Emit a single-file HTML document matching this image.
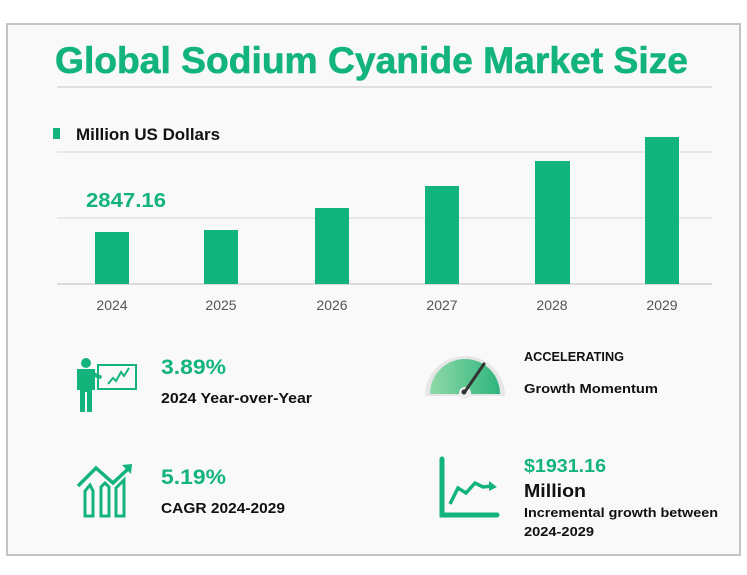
<!DOCTYPE html>
<html><head><meta charset="utf-8"><style>
html,body{margin:0;padding:0;background:#fff;}
svg{display:block;font-family:"Liberation Sans",sans-serif;}
</style></head><body>
<svg width="747" height="575" viewBox="0 0 747 575" xmlns="http://www.w3.org/2000/svg">
<rect x="7" y="24" width="733" height="531" fill="#f9f9f9" stroke="#c4c4c4" stroke-width="2"/>
<text x="55" y="73" font-size="37" font-weight="bold" fill="#12b47b" stroke="#12b47b" stroke-width="0.6" textLength="633" lengthAdjust="spacingAndGlyphs">Global  Sodium Cyanide Market Size</text>
<line x1="57" y1="87" x2="712" y2="87" stroke="#d8d8d8" stroke-width="1.5"/>
<rect x="53" y="128" width="7" height="11" fill="#12b47b"/>
<text x="76" y="140" font-size="17" font-weight="bold" fill="#111" textLength="144" lengthAdjust="spacingAndGlyphs">Million US Dollars</text>
<line x1="57" y1="152" x2="712" y2="152" stroke="#d8d8d8"/>
<line x1="57" y1="218" x2="712" y2="218" stroke="#d8d8d8"/>
<line x1="57" y1="284" x2="712" y2="284" stroke="#d0d0d0" stroke-width="1.5"/>
<g fill="#10b47c">
<rect x="95" y="232" width="34" height="52"/>
<rect x="204" y="230" width="34" height="54"/>
<rect x="315" y="208" width="34" height="76"/>
<rect x="425" y="186" width="34" height="98"/>
<rect x="535" y="161" width="35" height="123"/>
<rect x="645" y="137" width="34" height="147"/>
</g>
<text x="86" y="207" font-size="20" font-weight="bold" fill="#12b47b" textLength="80" lengthAdjust="spacingAndGlyphs">2847.16</text>
<g font-size="14" fill="#555" text-anchor="middle">
<text x="112" y="310">2024</text><text x="221" y="310">2025</text><text x="332" y="310">2026</text>
<text x="442" y="310">2027</text><text x="552" y="310">2028</text><text x="662" y="310">2029</text>
</g>
<g fill="#12b47b">
<circle cx="86" cy="363" r="5"/>
<path d="M77 369 H95 V390 H92 V412 H87 V392 H85 V412 H80 V390 H77 Z"/>
<path d="M94 372 L102 376 L101 379 L94 377 Z"/>
</g>
<rect x="98" y="365" width="38" height="24" fill="none" stroke="#12b47b" stroke-width="2"/>
<polyline points="108,384 113,378 116,381 121,372 124,376 129,368" fill="none" stroke="#12b47b" stroke-width="2"/>
<text x="161" y="374" font-size="21" font-weight="bold" fill="#12b47b" textLength="65" lengthAdjust="spacingAndGlyphs">3.89%</text>
<text x="161" y="403" font-size="15" font-weight="bold" fill="#111" textLength="151" lengthAdjust="spacingAndGlyphs">2024 Year-over-Year</text>
<polyline points="78,486 96,468 113,483 129,468" fill="none" stroke="#12b47b" stroke-width="3.5"/>
<path d="M122 465 L132 464 L131 474 Z" fill="#12b47b"/>
<g fill="none" stroke="#12b47b" stroke-width="3">
<path d="M85 516 V491 L90 485 L93 491 V516 Z"/>
<path d="M101 516 V487 L105 483 L109 487 V516 Z"/>
<path d="M116 516 V488 L124 480 V516 Z"/>
</g>
<text x="161" y="484" font-size="21" font-weight="bold" fill="#12b47b" textLength="65" lengthAdjust="spacingAndGlyphs">5.19%</text>
<text x="161" y="513" font-size="15" font-weight="bold" fill="#111" textLength="124" lengthAdjust="spacingAndGlyphs">CAGR 2024-2029</text>
<defs><linearGradient id="g" x1="0" x2="1"><stop offset="0" stop-color="#8fd9a8"/><stop offset="1" stop-color="#2fb57d"/></linearGradient></defs>
<path d="M425 396 A40 40 0 0 1 505 396 Z" fill="#e6e6e6"/>
<path d="M430 394 A35 35 0 0 1 500 394 Z" fill="url(#g)"/>
<circle cx="465" cy="393" r="6" fill="#eee"/>
<line x1="464" y1="393" x2="484" y2="364" stroke="#333" stroke-width="3" stroke-linecap="round"/>
<circle cx="464" cy="392" r="2.5" fill="#333"/>
<text x="524" y="361" font-size="13" font-weight="bold" fill="#111" textLength="100" lengthAdjust="spacingAndGlyphs">ACCELERATING</text>
<text x="524" y="393" font-size="13" font-weight="bold" fill="#111" textLength="134" lengthAdjust="spacingAndGlyphs">Growth Momentum</text>
<path d="M442 459 V515 H497" fill="none" stroke="#12b47b" stroke-width="5" stroke-linecap="round"/>
<polyline points="450,504 458,488 466,493 475,483 483,487 492,486" fill="none" stroke="#12b47b" stroke-width="3.5"/>
<path d="M489 481 L497 487 L489 491 Z" fill="#12b47b"/>
<text x="524" y="472" font-size="18" font-weight="bold" fill="#12b47b" textLength="82" lengthAdjust="spacingAndGlyphs">$1931.16</text>
<text x="524" y="497" font-size="18" font-weight="bold" fill="#111" textLength="62" lengthAdjust="spacingAndGlyphs">Million</text>
<text x="524" y="517" font-size="13" font-weight="bold" fill="#111" textLength="194" lengthAdjust="spacingAndGlyphs">Incremental growth between</text>
<text x="524" y="536" font-size="13" font-weight="bold" fill="#111" textLength="70" lengthAdjust="spacingAndGlyphs">2024-2029</text>
</svg>
</body></html>
